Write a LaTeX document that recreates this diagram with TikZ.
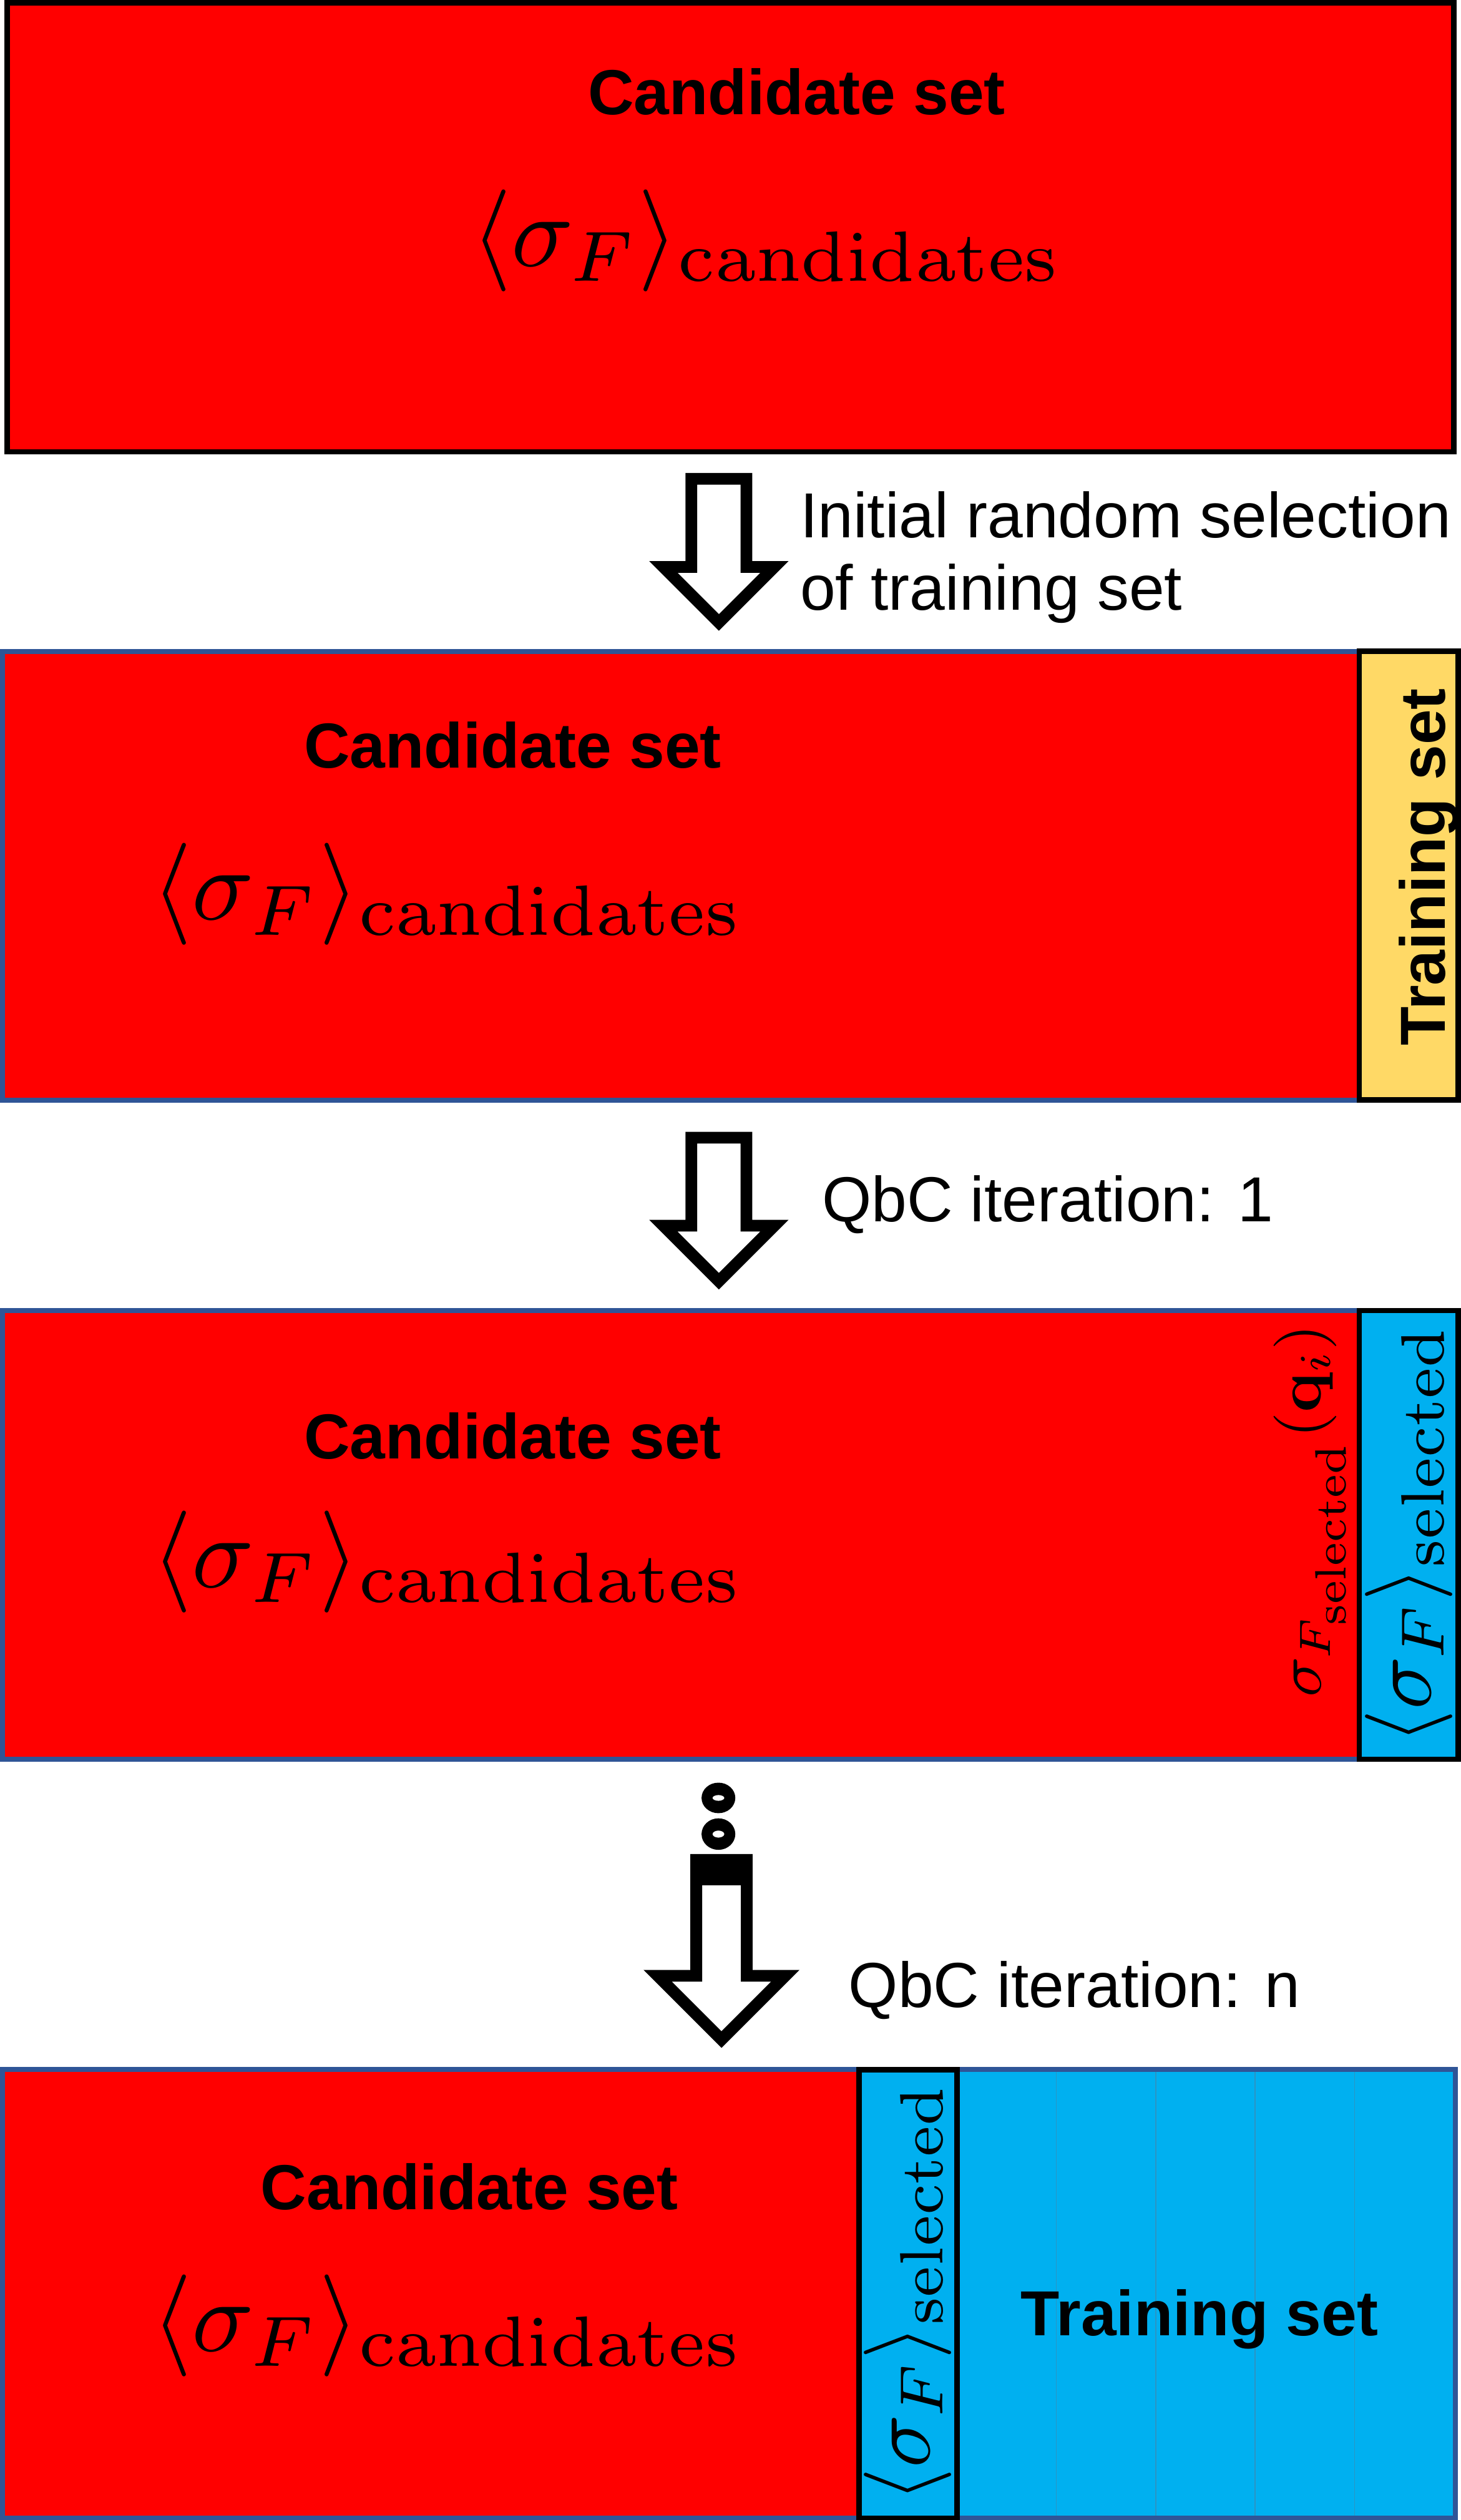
\documentclass[tikz,border=0pt]{standalone}
\usepackage[no-math]{fontspec}
\usepackage{graphicx}
\newfontfamily\arial{Liberation Sans}

\definecolor{boxred}{HTML}{FF0000}
\definecolor{trainyellow}{HTML}{FFD966}
\definecolor{selcyan}{HTML}{00B0F0}
\definecolor{rimblue}{HTML}{2F5597}
\definecolor{seam}{HTML}{2A95C4}

% one drawing unit
\newlength\pu
\setlength\pu{0.5pt}

% hollow block arrow: centre x, top y, head y, shaft half width, head half width
\newcommand\blockarrow[5]{%
  \draw[flowarrow] ({#1-#4},#2) -- ({#1+#4},#2) -- ({#1+#4},#3) -- ({#1+#5},#3)
    -- (#1,{#3+#5}) -- ({#1-#5},#3) -- ({#1-#4},#3) -- cycle;}

\begin{document}
\begin{tikzpicture}[x=0.5pt,y=-0.5pt,
  setbox/.style={fill=boxred, draw=rimblue, line width=1.5pt},
  stripbox/.style={draw=black, line width=1.7pt},
  flowarrow/.style={draw=black, fill=white, line width=3.65pt, line join=miter},
  title/.style={font=\arial\bfseries\fontsize{19.8pt}{22pt}\selectfont, inner sep=0pt, anchor=base},
  note/.style={font=\arial\fontsize{19.8pt}{22pt}\selectfont, inner sep=0pt, anchor=base west},
  formula/.style={inner sep=0pt, anchor=center}
]
\useasboundingbox (0,0) rectangle (909,1568);

% ---- stage 1: all candidates
\draw[fill=boxred, draw=black, line width=1.7pt] (4.55,1.7) rectangle (904.5,281.1);
\node[title] (cs1) at (495.7,71.3) {Candidate set};
\node[formula] (m1) at (477.25,149.65)
  {\resizebox*{368\pu}{63.4\pu}{$\langle\sigma_F\rangle_{\mathrm{candidates}}$}};

\blockarrow{447.3}{297.95}{352.75}{17.15}{34.55}
\node[note] (lab1a) at (497.5,334.7) {Initial random selection};
\node[note] (lab1b) at (497.5,379.6) {of training set};

% ---- stage 2: random training set split off
\draw[setbox] (1.6,405.3) rectangle (907.4,684.5);
\draw[stripbox, fill=trainyellow] (845.75,405.3) rectangle (907.25,684.5);
\node[title] (cs2) at (319,478.0) {Candidate set};
\node[formula] (m2) at (278.6,556.35)
  {\resizebox*{368\pu}{63.4\pu}{$\langle\sigma_F\rangle_{\mathrm{candidates}}$}};
\node[title, rotate=90] (ts2) at (899.3,539.5) {Training set};

\blockarrow{447.3}{707.85}{762.65}{17.15}{34.55}
\node[note] (lab2) at (511,760) {QbC iteration: 1};

% ---- stage 3: first query
\draw[setbox] (1.6,815.4) rectangle (907.4,1094.6);
\draw[stripbox, fill=selcyan] (845.75,815.4) rectangle (907.25,1094.6);
\node[title] (cs3) at (319,907.7) {Candidate set};
\node[formula] (m3) at (278.6,971.8)
  {\resizebox*{368\pu}{63.4\pu}{$\langle\sigma_F\rangle_{\mathrm{candidates}}$}};
\node[formula, rotate=90] (q3) at (814.85,939.9)
  {\resizebox*{232\pu}{44.7\pu}{$\sigma_{F_{\scriptstyle\mathrm{selected}}}(\mathbf{q}_i)$}};
\node[formula, rotate=90] (s3) at (876.65,954.5)
  {\resizebox*{261\pu}{54.3\pu}{$\langle\sigma_F\rangle_{\mathrm{selected}}$}};

% ---- continuation marks and last arrow
\fill[even odd rule] (447,1118.7) ellipse [x radius=10.5, y radius=9.5]
                     (447,1118.7) ellipse [x radius=3.7, y radius=1.8];
\fill[even odd rule] (447,1141.2) ellipse [x radius=10.5, y radius=9.8]
                     (447,1141.2) ellipse [x radius=3.7, y radius=2.2];
\blockarrow{448.9}{1157.25}{1229.35}{15.7}{39.7}
\fill (429.5,1153.6) rectangle (468.4,1173.2);
\node[note] (lab3) at (527.6,1249) {QbC iteration: n};

% ---- stage 4: after n queries
\fill[boxred] (1.6,1287.7) rectangle (905.5,1566.9);
\fill[selcyan] (595.4,1287.7) rectangle (905.5,1566.9);
\foreach \sx in {657.3,719.1,780.9,842.7}
  \draw[seam, line width=0.25pt] (\sx,1287.7) -- (\sx,1566.9);
\draw[rimblue, line width=1.5pt] (1.6,1287.7) rectangle (905.5,1566.9);
\draw[stripbox, fill=selcyan] (534.4,1287.7) rectangle (595.4,1566.9);
\node[title] (cs4) at (292.1,1374.7) {Candidate set};
\node[formula] (m4) at (278.6,1447)
  {\resizebox*{368\pu}{63.4\pu}{$\langle\sigma_F\rangle_{\mathrm{candidates}}$}};
\node[formula, rotate=90] (s4) at (564.9,1426.2)
  {\resizebox*{261\pu}{54.3\pu}{$\langle\sigma_F\rangle_{\mathrm{selected}}$}};
\node[title] (ts4) at (746.3,1453.4) {Training set};
\end{tikzpicture}
\end{document}
